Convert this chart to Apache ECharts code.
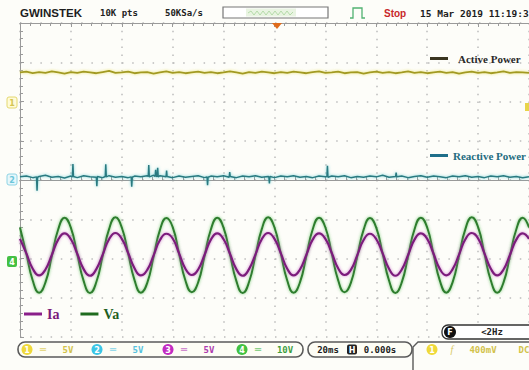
<!DOCTYPE html>
<html><head><meta charset="utf-8">
<script src="https://cdn.jsdelivr.net/npm/echarts/dist/echarts.min.js"></script>
<style>html,body{margin:0;padding:0;background:#fdfdf9}#c{width:529px;height:370px}</style>
</head><body><div id="c"></div>
<script>
// ---- time samples (ms) : 20 ms / div, 10 div ----
const timeMs = [0,2.5,5,7.5,10,12.5,15,17.5,20,22.5,25,27.5,30,32.5,35,37.5,40,42.5,45,47.5,
  50,52.5,55,57.5,60,62.5,65,67.5,70,72.5,75,77.5,80,82.5,85,87.5,90,92.5,95,97.5,
  100,102.5,105,107.5,110,112.5,115,117.5,120,122.5,125,127.5,130,132.5,135,137.5,140,142.5,145,147.5,
  150,152.5,155,157.5,160,162.5,165,167.5,170,172.5,175,177.5,180,182.5,185,187.5,190,192.5,195,197.5,200];

// ---- values in screen divisions (centre = 0) ----
const activePower = [2.74,2.76,2.72,2.75,2.73,2.77,2.74,2.71,
  2.75,2.73,2.76,2.74,2.72,2.75,2.78,2.73,
  2.74,2.76,2.72,2.74,2.75,2.71,2.74,2.77,
  2.73,2.75,2.72,2.74,2.76,2.73,2.75,2.72,
  2.74,2.77,2.74,2.71,2.75,2.73,2.76,2.74,
  2.72,2.75,2.73,2.76,2.74,2.72,2.75,2.77,
  2.73,2.74,2.76,2.72,2.74,2.75,2.71,2.74,
  2.76,2.73,2.75,2.72,2.74,2.77,2.73,2.75,
  2.72,2.74,2.76,2.73,2.75,2.71,2.74,2.76,
  2.73,2.75,2.72,2.74,2.77,2.73,2.75,2.74,
  2.73];

const vaValues = [-1.21,-1.88,-2.56,-2.87,-2.61,-1.94,-1.26,-0.96,
  -1.22,-1.89,-2.57,-2.88,-2.60,-1.93,-1.25,-0.95,
  -1.21,-1.87,-2.55,-2.87,-2.62,-1.95,-1.27,-0.97,
  -1.20,-1.88,-2.56,-2.86,-2.61,-1.94,-1.26,-0.96,
  -1.22,-1.89,-2.57,-2.88,-2.60,-1.93,-1.25,-0.95,
  -1.21,-1.88,-2.56,-2.87,-2.61,-1.94,-1.26,-0.96,
  -1.21,-1.87,-2.55,-2.86,-2.62,-1.95,-1.27,-0.97,
  -1.22,-1.88,-2.56,-2.88,-2.61,-1.94,-1.26,-0.96,
  -1.21,-1.89,-2.57,-2.87,-2.60,-1.93,-1.25,-0.95,
  -1.20,-1.88,-2.56,-2.87,-2.61,-1.94,-1.26,-0.96,
  -1.21];

const iaValues = [-1.50,-1.87,-2.26,-2.43,-2.28,-1.91,-1.52,-1.36,
  -1.51,-1.88,-2.27,-2.44,-2.27,-1.90,-1.51,-1.35,
  -1.50,-1.86,-2.25,-2.43,-2.29,-1.92,-1.53,-1.37,
  -1.49,-1.87,-2.26,-2.42,-2.28,-1.91,-1.52,-1.36,
  -1.51,-1.88,-2.27,-2.44,-2.27,-1.90,-1.51,-1.35,
  -1.50,-1.87,-2.26,-2.43,-2.28,-1.91,-1.52,-1.36,
  -1.50,-1.86,-2.25,-2.42,-2.29,-1.92,-1.53,-1.37,
  -1.51,-1.87,-2.26,-2.44,-2.28,-1.91,-1.52,-1.36,
  -1.50,-1.88,-2.27,-2.43,-2.27,-1.90,-1.51,-1.35,
  -1.49,-1.87,-2.26,-2.43,-2.28,-1.91,-1.52,-1.36,
  -1.50];

const reactiveT = [0,2.5,5,6.5,6.7,6.9,7.5,10,12.5,15,
  17.5,20,20.6,20.8,21.0,22.5,25,27.5,30,30.2,
  30.4,32.5,33.5,33.7,33.9,35,37.5,40,42.5,43.7,
  43.9,44.1,45,47.5,50,50.4,50.6,50.8,52.5,53.1,
  53.3,53.5,53.9,54.1,54.3,55,57.4,57.6,57.8,60,
  62.5,65,67.5,70,72.5,73.5,73.7,73.9,75,77.5,
  80,82.2,82.4,82.6,85,87.5,90,92.5,95,97.5,
  97.8,98,98.2,100,102.5,105,107.5,110,112.5,115,
  117.5,120,120.6,120.8,121.0,122.5,125,127.5,130,132.5,
  135,137.5,140,142.5,145,147.6,147.8,148,150,152.5,
  155,157.5,160,162.5,165,167.5,170,172.5,175,177.5,
  180,182.5,185,187.5,190,192.5,195,197.5,200];
const reactiveV = [0.08,0.10,0.06,0.08,-0.27,0.07,0.09,0.12,0.07,0.09,
  0.05,0.10,0.08,0.41,0.09,0.06,0.11,0.08,0.07,-0.16,
  0.09,0.06,0.09,0.40,0.08,0.11,0.07,0.09,0.06,0.08,
  -0.17,0.07,0.10,0.08,0.11,0.09,0.38,0.08,0.12,0.09,
  0.26,0.10,0.09,0.31,0.08,0.11,0.08,0.24,0.09,0.06,
  0.10,0.07,0.09,0.11,0.06,0.08,-0.13,0.07,0.10,0.08,
  0.11,0.07,0.20,0.09,0.06,0.10,0.08,0.11,0.07,0.09,
  0.08,-0.09,0.09,0.06,0.10,0.08,0.11,0.07,0.09,0.06,
  0.10,0.08,0.09,0.36,0.07,0.10,0.08,0.11,0.06,0.09,
  0.07,0.10,0.08,0.12,0.07,0.09,0.19,0.08,0.10,0.06,
  0.09,0.11,0.07,0.10,0.08,0.06,0.10,0.08,0.11,0.07,
  0.09,0.06,0.10,0.08,0.11,0.07,0.09,0.06,0.08];

const seriesNames = ['Active Power','Reactive Power','Ia','Va'];
const headerTexts = {brand:'GWINSTEK', pts:'10K pts', rate:'50KSa/s', state:'Stop', date:'15 Mar 2019 11:19:3'};
const channelScales = ['5V','5V','5V','10V'];
const timebase = '20ms', hPosition = '0.000s', trigLevel = '400mV', trigCoupling = 'DC', trigFreq = '<2Hz';

const pairs = (xs, ys) => xs.map((x, i) => [x, ys[i]]);
const MONO = '"DejaVu Sans Mono"';
const gray = '#9a9a9a';

function txt(x, y, text, font, fill, align) {
  return {type:'text', x:x, y:y, z:100, silent:true,
    style:{text:text, font:font, fill:fill, align:align||'left', verticalAlign:'middle'}};
}
function circ(cx, cy, r, fill, label) {
  return [{type:'circle', z:100, silent:true, shape:{cx:cx, cy:cy, r:r}, style:{fill:fill}},
          txt(cx, cy+0.5, label, 'bold 8px "DejaVu Sans"', '#ffffff', 'center')];
}

const chCols = ['#efd93a','#3cc6e6','#c22cc2','#42c242'];
const chText = ['#d2c24a','#58c2de','#ae3cae','#3e9e3e'];
const chDash = ['#e2d370','#86d4e8','#c873c8','#72c872'];
const chanX = [27, 97, 168, 242];
const graphics = [];
// header
graphics.push(txt(20, 13, headerTexts.brand, 'bold 11.5px "Liberation Sans"', '#1e1e1e'));
graphics.push(txt(100, 13, headerTexts.pts, 'bold 9px ' + MONO, '#222'));
graphics.push(txt(165, 13, headerTexts.rate, 'bold 9px ' + MONO, '#222'));
graphics.push({type:'rect', z:100, silent:true, shape:{x:223, y:7, width:105, height:11}, style:{fill:'#ffffff', stroke:'#777', lineWidth:1.2}});
graphics.push({type:'rect', z:100, silent:true, shape:{x:246, y:8.5, width:50, height:8}, style:{fill:'#e9f4e2'}});
graphics.push({type:'polyline', z:101, silent:true, shape:{points:[[248,13],[251,11],[254,15],[257,11],[260,15],[263,11],[266,15],[269,11],[272,15],[275,11],[278,15],[281,11],[284,15],[287,11],[290,15],[293,12]]}, style:{stroke:'#a8d49c', lineWidth:0.8, fill:null}});
graphics.push({type:'polyline', z:100, silent:true, shape:{points:[[350,18],[353,18],[353,8],[362,8],[362,18],[365,18]]}, style:{stroke:'#52b272', lineWidth:1.3, fill:null}});
graphics.push(txt(384, 13, headerTexts.state, 'bold 10px "Liberation Sans"', '#c8282a'));
graphics.push(txt(420, 13, headerTexts.date, 'bold 9.5px ' + MONO, '#1e1e1e'));
graphics.push({type:'polygon', z:100, silent:true, shape:{points:[[272,23],[282,23],[277,29]]}, style:{fill:'#e06c1c'}});
// left channel markers
graphics.push({type:'rect', z:100, silent:true, shape:{x:7, y:97, width:10, height:11, r:2}, style:{fill:'#fffbd8', stroke:'#e4d870', lineWidth:1}});
graphics.push(txt(12, 103, '1', 'bold 8px "DejaVu Sans"', '#d4c452', 'center'));
graphics.push({type:'rect', z:100, silent:true, shape:{x:7, y:174, width:10, height:11, r:2}, style:{fill:'#e6f7fb', stroke:'#8fd4e4', lineWidth:1}});
graphics.push(txt(12, 180, '2', 'bold 8px "DejaVu Sans"', '#6cc6da', 'center'));
graphics.push({type:'rect', z:100, silent:true, shape:{x:7, y:256, width:10, height:11, r:2}, style:{fill:'#44c044'}});
graphics.push(txt(12, 262, '4', 'bold 8px "DejaVu Sans"', '#ffffff', 'center'));
graphics.push({type:'rect', z:100, silent:true, shape:{x:525, y:103, width:5, height:8}, style:{fill:'#e8d44a'}});
// status bar
graphics.push({type:'rect', z:100, silent:true, shape:{x:18, y:342, width:285, height:15, r:7}, style:{fill:'#fdfdf5', stroke:'#5a5a5a', lineWidth:1.6}});
for (let i = 0; i < 4; i++) {
  graphics.push(...circ(chanX[i], 349.5, 5.5, chCols[i], String(i + 1)));
  graphics.push(txt(chanX[i] + 16, 349.5, '═', 'bold 10px ' + MONO, chDash[i], 'center'));
  graphics.push(txt(chanX[i] + (i === 3 ? 43 : 41), 349.5, channelScales[i], 'bold 9px ' + MONO, chText[i], 'center'));
}
graphics.push({type:'rect', z:100, silent:true, shape:{x:308, y:342, width:104, height:15, r:7}, style:{fill:'#fdfdf5', stroke:'#5a5a5a', lineWidth:1.6}});
graphics.push(txt(328, 349.5, timebase, 'bold 9px ' + MONO, '#222', 'center'));
graphics.push({type:'rect', z:100, silent:true, shape:{x:347, y:344.5, width:10, height:10, r:2}, style:{fill:'#222'}});
graphics.push(txt(352, 350, 'H', 'bold 8px "DejaVu Sans"', '#ffffff', 'center'));
graphics.push(txt(380, 349.5, hPosition, 'bold 9px ' + MONO, '#222', 'center'));
graphics.push({type:'polyline', z:100, silent:true, shape:{points:[[413,371],[413,347],[418,342],[535,342]]}, style:{stroke:'#5a5a5a', lineWidth:1.4, fill:null}});
graphics.push(...circ(432, 349.5, 5.5, chCols[0], '1'));
graphics.push(txt(452, 349.5, 'f', 'italic 10px "Liberation Serif"', '#d8c860', 'center'));
graphics.push(txt(483, 349.5, trigLevel, 'bold 9px ' + MONO, '#d2c24a', 'center'));
graphics.push(txt(524, 349.5, trigCoupling, 'bold 9px ' + MONO, '#d2c24a', 'center'));
graphics.push({type:'rect', z:100, silent:true, shape:{x:442, y:325, width:95, height:14, r:6}, style:{fill:'#ffffff', stroke:'#333', lineWidth:1.3}});
graphics.push(...circ(450, 332, 6, '#111', 'F'));
graphics.push(txt(492, 332, trigFreq, 'bold 9px ' + MONO, '#222', 'center'));

const axisCommon = {
  axisLabel:{show:false},
  axisLine:{show:true, lineStyle:{color:gray, width:1}},
  axisTick:{show:true, inside:true, length:4, lineStyle:{color:gray}},
  minorTick:{show:true, splitNumber:5, length:3, lineStyle:{color:gray}}
};

const chart = echarts.init(document.getElementById('c'), null, {renderer:'svg'});
chart.setOption({
  animation:false,
  backgroundColor:'#fdfdf9',
  grid:{left:20, top:23, width:510, height:314},
  xAxis:[
    Object.assign({type:'value', min:0, max:200, interval:20, position:'bottom',
      splitLine:{show:true, lineStyle:{color:'#bcbcbc', width:1.5, type:[1.5, 6.35]}}}, axisCommon),
    Object.assign({type:'value', min:0, max:200, interval:20, position:'top', splitLine:{show:false}}, axisCommon)
  ],
  yAxis:[
    Object.assign({type:'value', min:-4, max:4, interval:1, position:'left',
      splitLine:{show:true, lineStyle:{color:'#bcbcbc', width:1.5, type:[1.5, 8.7]}}}, axisCommon)
  ],
  legend:[
    {data:[{name:seriesNames[0], itemStyle:{color:'#3a3520'}}], left:430, top:53, padding:0, icon:'rect', itemWidth:18, itemHeight:3,
      selectedMode:false, textStyle:{fontFamily:'Liberation Serif', fontSize:11, fontWeight:'bold', color:'#2a2a2a', padding:[0,0,0,5]}},
    {data:[{name:seriesNames[1], itemStyle:{color:'#1f6f8a'}}], left:430, top:150, padding:0, icon:'rect', itemWidth:18, itemHeight:3,
      selectedMode:false, textStyle:{fontFamily:'Liberation Serif', fontSize:11, fontWeight:'bold', color:'#236c80'}},
    {data:[{name:seriesNames[2], itemStyle:{color:'#8a1f8a'}, textStyle:{color:'#7a1a7a'}},
           {name:seriesNames[3], itemStyle:{color:'#1f6b1f'}, textStyle:{color:'#1f5f1f'}}],
      left:24, top:307, padding:0, icon:'rect', itemWidth:18, itemHeight:3, itemGap:21, selectedMode:false,
      textStyle:{fontFamily:'Liberation Serif', fontSize:14, fontWeight:'bold'}}
  ],
  graphic:{elements:graphics},
  series:[
    {name:seriesNames[0], type:'line', showSymbol:false, data:pairs(timeMs, activePower),
      lineStyle:{color:'#a29a24', width:1.8, shadowColor:'rgba(230,220,80,0.8)', shadowBlur:3}, itemStyle:{color:'#a29a24'}},
    {name:seriesNames[1], type:'line', showSymbol:false, data:pairs(reactiveT, reactiveV),
      lineStyle:{color:'#2a7a80', width:1.5, shadowColor:'rgba(60,190,200,0.7)', shadowBlur:3}, itemStyle:{color:'#2a7a80'}},
    {name:seriesNames[3], type:'line', showSymbol:false, smooth:true, data:pairs(timeMs, vaValues),
      lineStyle:{color:'#2f7d2f', width:2, shadowColor:'rgba(90,190,90,0.8)', shadowBlur:3}, itemStyle:{color:'#2f7d2f'}},
    {name:seriesNames[2], type:'line', showSymbol:false, smooth:true, data:pairs(timeMs, iaValues),
      lineStyle:{color:'#7c1d7c', width:2.2, shadowColor:'rgba(190,80,190,0.7)', shadowBlur:3}, itemStyle:{color:'#7c1d7c'}}
  ]
});
</script></body></html>
